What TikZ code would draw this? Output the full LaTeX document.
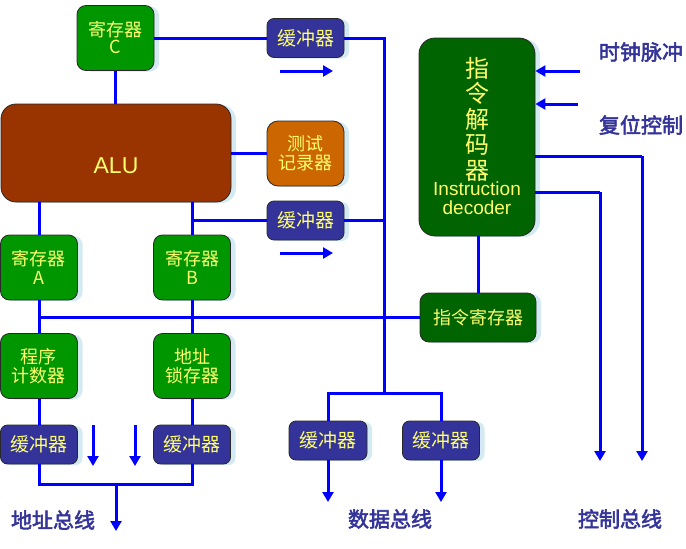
\documentclass[tikz,border=0pt]{standalone}
\usepackage{fontspec}
\setmainfont{Liberation Sans}
\newfontfamily\cjk{Noto Sans CJK SC}[AutoFakeBold=2.5]
\usetikzlibrary{arrows.meta,shadows}
\definecolor{regG}{RGB}{0,150,0}
\definecolor{aluB}{RGB}{153,51,0}
\definecolor{tstO}{RGB}{204,102,0}
\definecolor{bufB}{RGB}{51,51,153}
\definecolor{decG}{RGB}{0,100,0}
\definecolor{txtY}{RGB}{255,255,110}
\definecolor{lblB}{RGB}{51,51,153}
\definecolor{busB}{RGB}{0,0,255}
\definecolor{shd}{RGB}{212,234,242}
\tikzset{
  box/.style={draw={rgb,255:red,40;green,40;blue,40}, line width=0.8pt, rounded corners=9pt,
    text=txtY, align=center, inner sep=0pt,
    drop shadow={shadow xshift=5pt, shadow yshift=-1pt, fill=shd, opacity=1}},
  regbox/.style={box, fill=regG, minimum width=77pt, minimum height=65pt,
    font=\cjk\fontsize{18}{19}\selectfont},
  bufbox/.style={box, fill=bufB, minimum width=77pt, minimum height=39pt, rounded corners=7pt,
    font=\cjk\fontsize{19}{20}\selectfont},
  bus/.style={busB, line width=3pt},
  busarrow/.style={bus, -{Triangle[width=11pt,length=10pt]}},
  lbl/.style={text=lblB, font=\cjk\bfseries\fontsize{21}{22}\selectfont, inner sep=0pt},
}
\begin{document}
\begin{tikzpicture}[x=1pt,y=-1pt]
\useasboundingbox (0,0) rectangle (686,549);
% nodes
\node[regbox, font=\cjk\fontsize{18}{17}\selectfont] (regC) at (115.5,38) {寄存器\\C};
\node[box, fill=aluB, minimum width=230pt, minimum height=98pt, rounded corners=15pt,
  label={[text=txtY, font=\fontsize{23}{25}\selectfont, yshift=-13pt]center:ALU}] (alu) at (116,153) {};
\node[bufbox] (buf1) at (305.5,38) {缓冲器};
\node[regbox, fill=tstO, rounded corners=11pt] (test) at (305.5,153.5) {测试\\记录器};
\node[bufbox] (buf2) at (305.5,220.5) {缓冲器};
\node[regbox] (regA) at (39,267.5) {寄存器\\A};
\node[regbox] (regB) at (192,267.5) {寄存器\\B};
\node[regbox] (pc) at (39,366) {程序\\计数器};
\node[regbox] (latch) at (192,366) {地址\\锁存器};
\node[bufbox] (bufL) at (39,444.5) {缓冲器};
\node[bufbox] (bufR) at (192,444.5) {缓冲器};
\node[bufbox, minimum width=78pt] (bufD1) at (328,440.5) {缓冲器};
\node[bufbox] (bufD2) at (441,440.5) {缓冲器};
\node[box, fill=decG, minimum width=116pt, minimum height=49pt,
  font=\cjk\fontsize{18}{20}\selectfont] (ir) at (478,317.5) {指令寄存器};
\node[box, fill=decG, minimum width=116pt, minimum height=198pt, rounded corners=16pt] (dec) at (477,137) {};
\node[text=txtY, font=\cjk\fontsize{24}{25.5}\selectfont, align=center, anchor=north, inner sep=0pt] (dectxt) at (477,57) {指\\令\\解\\码\\器};
\node[text=txtY, font=\fontsize{19}{19}\selectfont, align=center, anchor=north, inner sep=0pt] (dectxt2) at (477,182) {Instruction\\decoder};
% labels
\node[lbl] (clk) at (641,52) {时钟脉冲};
\node[lbl] (rst) at (641,125) {复位控制};
\node[lbl] (abus) at (53,520) {地址总线};
\node[lbl] (dbus) at (390,519) {数据总线};
\node[lbl] (cbus) at (620,519) {控制总线};
% coordinates
\coordinate (busTop) at (384,38);
\coordinate (busBot) at (384,393);
\coordinate (aJoin) at (116,484);
\coordinate (aEnd) at (116,531);
\coordinate (d1End) at (328,502);
\coordinate (d2End) at (441,502);
\coordinate (clkS) at (580,71);
\coordinate (rstS) at (578,104);
\coordinate (c1) at (642,156);
\coordinate (c1End) at (642,461);
\coordinate (c2) at (600,192);
\coordinate (c2End) at (600,461);
\coordinate (s1a) at (280,71);
\coordinate (s1b) at (333,71);
\coordinate (s2a) at (280,253);
\coordinate (s2b) at (333,253);
\coordinate (da1) at (93,425);
\coordinate (da1e) at (93,466);
\coordinate (da2) at (135,425);
\coordinate (da2e) at (135,466);
% connectors
\draw[bus] (regC.south) -- (regC.south |- alu.north);
\draw[bus] (regC.east) -- (buf1.west);
\draw[bus] (buf1.east) -- (busTop) -- (busBot);
\draw[bus] (alu.east |- test.west) -- (test.west);
\draw[bus] (alu.south -| regA.north) -- (regA.north);
\draw[bus] (alu.south -| regB.north) -- (regB.north);
\draw[bus] (regB.north |- buf2.west) -- (buf2.west);
\draw[bus] (buf2.east) -- (busTop |- buf2.east);
\draw[bus] (regA.south) -- (pc.north);
\draw[bus] (regB.south) -- (latch.north);
\draw[bus] (pc.south) -- (bufL.north);
\draw[bus] (latch.south) -- (bufR.north);
\draw[bus] (regA.south |- ir.west) -- (ir.west);
\draw[bus] (bufL.south) |- (aJoin) -| (bufR.south);
\draw[busarrow] (aJoin) -- (aEnd);
\draw[busarrow] (da1) -- (da1e);
\draw[busarrow] (da2) -- (da2e);
\draw[bus] (bufD1.north) |- (busBot) -| (bufD2.north);
\draw[busarrow] (bufD1.south) -- (d1End);
\draw[busarrow] (bufD2.south) -- (d2End);
\draw[bus] (ir.north) -- (ir.north |- dec.south);
\draw[busarrow] (clkS) -- (dec.east |- clkS);
\draw[busarrow] (rstS) -- (dec.east |- rstS);
\draw[bus] (dec.east |- c1) -- (c1);
\draw[busarrow] (c1) -- (c1End);
\draw[bus] (dec.east |- c2) -- (c2);
\draw[busarrow] (c2) -- (c2End);
\draw[busarrow] (s1a) -- (s1b);
\draw[busarrow] (s2a) -- (s2b);
\end{tikzpicture}
\end{document}
